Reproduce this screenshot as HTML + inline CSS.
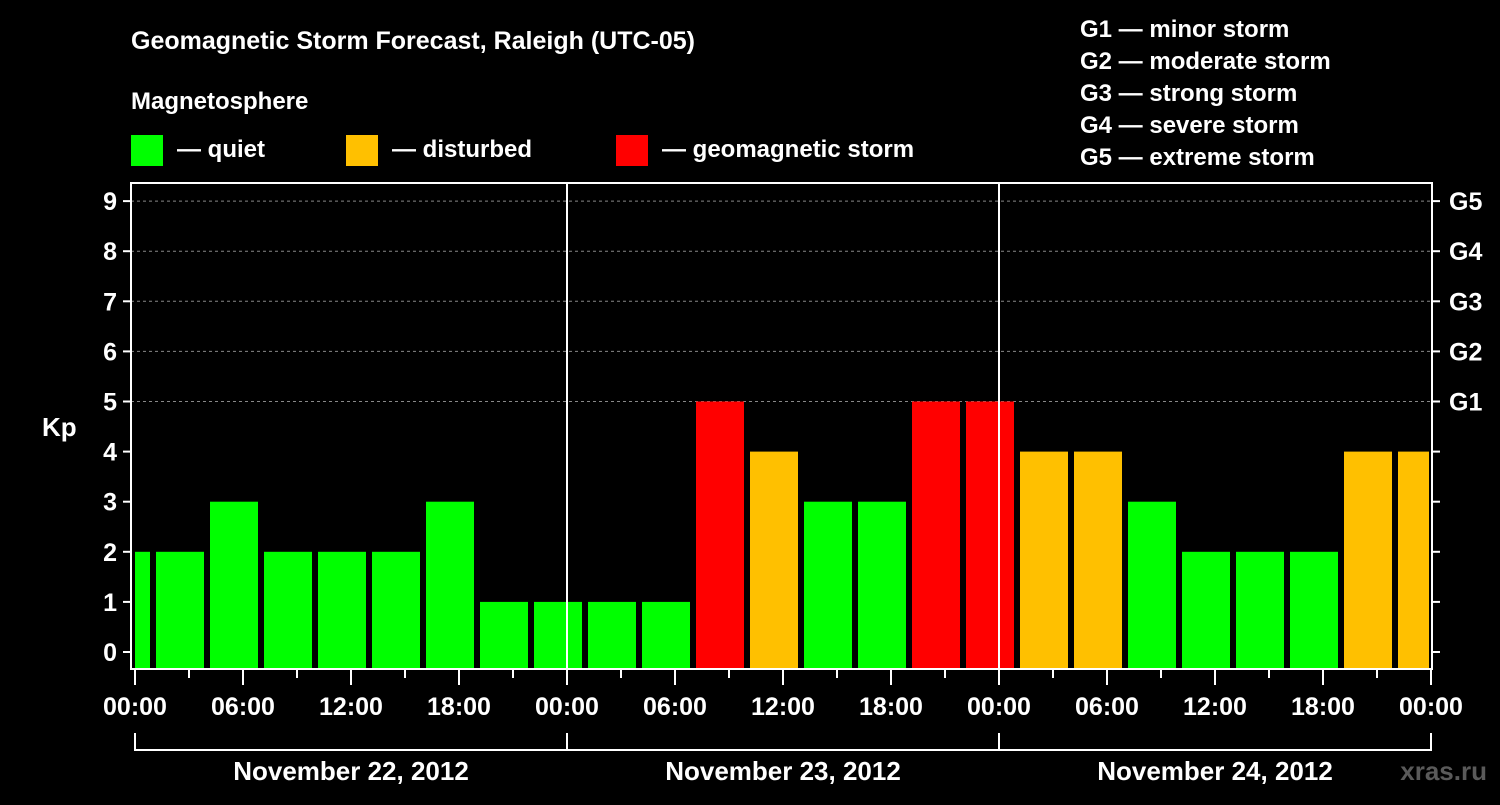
<!DOCTYPE html>
<html><head><meta charset="utf-8"><style>
body{margin:0;background:#000;width:1500px;height:800px;overflow:hidden;font-family:"Liberation Sans",sans-serif;}
svg text{font-family:"Liberation Sans",sans-serif;font-weight:bold;fill:#fff;}
</style></head><body>
<svg id="c" width="1500" height="800">
<text x="131" y="49" font-size="25">Geomagnetic Storm Forecast, Raleigh (UTC-05)</text>
<text x="131" y="109" font-size="24">Magnetosphere</text>
<rect x="131" y="135" width="32" height="31" fill="#00ff00"/>
<text x="177" y="157" font-size="24">— quiet</text>
<rect x="346" y="135" width="32" height="31" fill="#ffc000"/>
<text x="392" y="157" font-size="24">— disturbed</text>
<rect x="616" y="135" width="32" height="31" fill="#ff0000"/>
<text x="662" y="157" font-size="24">— geomagnetic storm</text>
<g font-size="24">
<text x="1080" y="37">G1 — minor storm</text>
<text x="1080" y="69">G2 — moderate storm</text>
<text x="1080" y="101">G3 — strong storm</text>
<text x="1080" y="133">G4 — severe storm</text>
<text x="1080" y="165">G5 — extreme storm</text>
</g>
<text x="42" y="436" font-size="26">Kp</text>
<text x="1487" y="780" font-size="26" fill="#555" style="fill:#5a5a5a" text-anchor="end">xras.ru</text>
<g id="plot"></g>
</svg>
<script>
const kpValues=[2,2,3,2,2,2,3,1,1,1,1,5,4,3,3,5,5,4,4,3,2,2,2,4,4];
const yTicks=[0,1,2,3,4,5,6,7,8,9];
const gLabels=["G1","G2","G3","G4","G5"];
const gLevels=[5,6,7,8,9];
const hourLabels=["00:00","06:00","12:00","18:00","00:00","06:00","12:00","18:00","00:00","06:00","12:00","18:00","00:00"];
const dayLabels=["November 22, 2012","November 23, 2012","November 24, 2012"];
const NS="http://www.w3.org/2000/svg";
const L=131,R=1432,T=183,B=669,X0=135,PXH=18;
const xs=h=>X0+h*PXH;
const ys=v=>652-v*50.1;
const g=document.getElementById('plot');
function mk(t,a,p){const e=document.createElementNS(NS,t);for(const k in a)e.setAttribute(k,a[k]);(p||g).appendChild(e);return e;}
// grid
gLevels.forEach(v=>{const e=mk('line',{x1:L,x2:R,y1:ys(v),y2:ys(v),stroke:'#888','stroke-dasharray':'3,3','stroke-width':1});

});
// bars
kpValues.forEach((v,k)=>{let x1=xs(3*k-2)+3,x2=x1+48;x1=Math.max(x1,L+4);x2=Math.min(x2,R-3);
const c=v>=5?'#ff0000':(v>=4?'#ffc000':'#00ff00');
const top=ys(v);
const e=mk('rect',{x:x1,y:top,width:x2-x1,height:B-top,fill:c});

});
// day separators
[1,2].forEach(d=>{const e=mk('line',{x1:xs(24*d),x2:xs(24*d),y1:T,y2:B,stroke:'#fff','stroke-width':2});

});
// frame
const f=mk('rect',{x:L,y:T,width:R-L,height:B-T,fill:'none',stroke:'#fff','stroke-width':2});


// y ticks
yTicks.forEach(v=>{const y=ys(v);
mk('line',{x1:L-8,x2:L,y1:y,y2:y,stroke:'#fff','stroke-width':2});
mk('line',{x1:R,x2:R+8,y1:y,y2:y,stroke:'#fff','stroke-width':2});
const t=mk('text',{x:L-14,y:y+9,'font-size':25,'text-anchor':'end'});t.textContent=v;

});
gLevels.forEach((v,i)=>{const t=mk('text',{x:R+17,y:ys(v)+9,'font-size':25});t.textContent=gLabels[i];

});
// x ticks
for(let h=0;h<=72;h+=3){const x=xs(h);const len=h%6===0?16:9;
mk('line',{x1:x,x2:x,y1:B,y2:B+len,stroke:'#fff','stroke-width':2});}
hourLabels.forEach((s,i)=>{const t=mk('text',{x:xs(6*i*1),y:715,'font-size':25,'text-anchor':'middle'});t.textContent=s;
t.setAttribute('x',xs(i*6));

});
// fix: labels every 6h only for 0..72
// day brackets
dayLabels.forEach((s,d)=>{const a=xs(24*d),b=xs(24*(d+1));
mk('path',{d:`M${a},733 V750 H${b} V733`,fill:'none',stroke:'#fff','stroke-width':2});
const t=mk('text',{x:(a+b)/2,y:780,'font-size':26,'text-anchor':'middle'});t.textContent=s;

});
</script>
</body></html>
